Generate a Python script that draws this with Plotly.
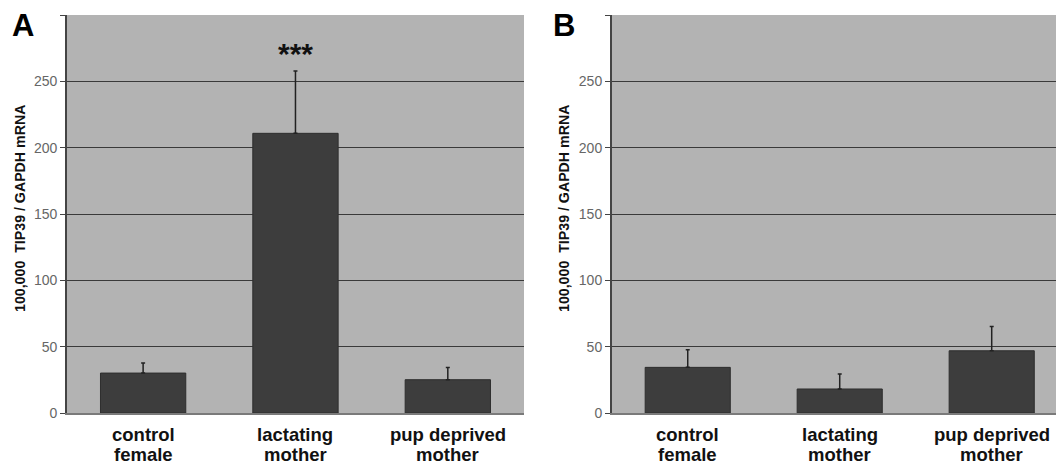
import plotly.graph_objects as go

categories = ["control female", "lactating mother", "pup deprived mother"]
label_lines = [("control", "female"), ("lactating", "mother"), ("pup deprived", "mother")]
values_a = [30.1, 210.8, 25.1]
errors_a = [7.6, 47.0, 9.2]
values_b = [34.4, 18.1, 46.9]
errors_b = [13.3, 11.3, 18.3]
y_tickvals = [0, 50, 100, 150, 200, 250, 300]
y_ticktext = ["0", "50", "100", "150", "200", "250", ""]
y_title = "100,000  TIP39 / GAPDH mRNA"

FONT = "Liberation Sans, Arial, sans-serif"
BAR = "#3d3d3d"
BG = "#b3b3b3"
GRID = "#3a3a3a"

W, H = 1056, 464
TOP, BOT = 15, 51
PLOT_H = H - TOP - BOT


def py(ypix):
    return (H - BOT - ypix) / PLOT_H


fig = go.Figure()
for vals, errs, xa, ya in [(values_a, errors_a, "x", "y"), (values_b, errors_b, "x2", "y2")]:
    fig.add_trace(go.Bar(
        x=categories, y=vals, xaxis=xa, yaxis=ya,
        marker=dict(color=BAR, line=dict(color="#2e2e2e", width=1)),
        error_y=dict(type="data", array=errs, arrayminus=[0] * len(errs),
                     symmetric=False, color="#222222", thickness=1.5, width=2),
        showlegend=False,
    ))

yax = dict(range=[0, 300], tickvals=y_tickvals, ticktext=y_ticktext,
           showgrid=True, gridcolor=GRID, gridwidth=1,
           showline=True, linecolor="#444444", linewidth=1.5,
           ticks="outside", ticklen=5, tickcolor="#444444",
           tickfont=dict(family=FONT, size=14, color="#666666"),
           zeroline=False, fixedrange=True, automargin=False)
xax = dict(showline=True, linecolor="#7a7a7a", linewidth=1.5, ticks="",
           showticklabels=False, showgrid=False, zeroline=False, automargin=False,
           fixedrange=True)

fig.update_layout(
    width=W, height=H,
    margin=dict(l=0, r=0, t=TOP, b=BOT, autoexpand=False),
    paper_bgcolor="white", plot_bgcolor=BG,
    bargap=0.44,
    font=dict(family=FONT),
    xaxis=dict(domain=[0.0634, 0.4962], range=[-0.5, 2.5], **xax),
    xaxis2=dict(domain=[0.5793, 1.0], range=[-0.5, 2.423], anchor="y2", **xax),
    yaxis=dict(anchor="x", **yax),
    yaxis2=dict(anchor="x2", **yax),
)

ann = [
    dict(text="<b>A</b>", x=10 / W, y=py(25), xanchor="left", yanchor="middle",
         font=dict(size=31, color="black")),
    dict(text="<b>B</b>", x=551 / W, y=py(25), xanchor="left", yanchor="middle",
         font=dict(size=31, color="black")),
    dict(text="<b>" + y_title + "</b>", x=20 / W, y=py(209), textangle=-90,
         xanchor="center", yanchor="middle", font=dict(size=14.2, color="#111111")),
    dict(text="<b>" + y_title + "</b>", x=564 / W, y=py(209), textangle=-90,
         xanchor="center", yanchor="middle", font=dict(size=14.2, color="#111111")),
    dict(text="<b>***</b>", x=categories[1], y=values_a[1] + errors_a[1], xref="x", yref="y",
         yshift=17, font=dict(size=30, color="#111111")),
]
for xr in ["x", "x2"]:
    for cat, (l1, l2) in zip(categories, label_lines):
        ann.append(dict(text="<b>" + l1 + "</b>", x=cat, xref=xr, y=py(435),
                        xanchor="center", yanchor="middle",
                        font=dict(size=18.5, color="#111111")))
        ann.append(dict(text="<b>" + l2 + "</b>", x=cat, xref=xr, y=py(455),
                        xanchor="center", yanchor="middle",
                        font=dict(size=18.5, color="#111111")))
for a in ann:
    a.setdefault("xref", "paper")
    a.setdefault("yref", "paper")
    a["showarrow"] = False
    a["font"]["family"] = FONT
fig.update_layout(annotations=ann)

fig.write_html("out.html", config={"displayModeBar": False},
               post_script="document.body.style.margin='0';document.body.style.overflow='hidden';")
